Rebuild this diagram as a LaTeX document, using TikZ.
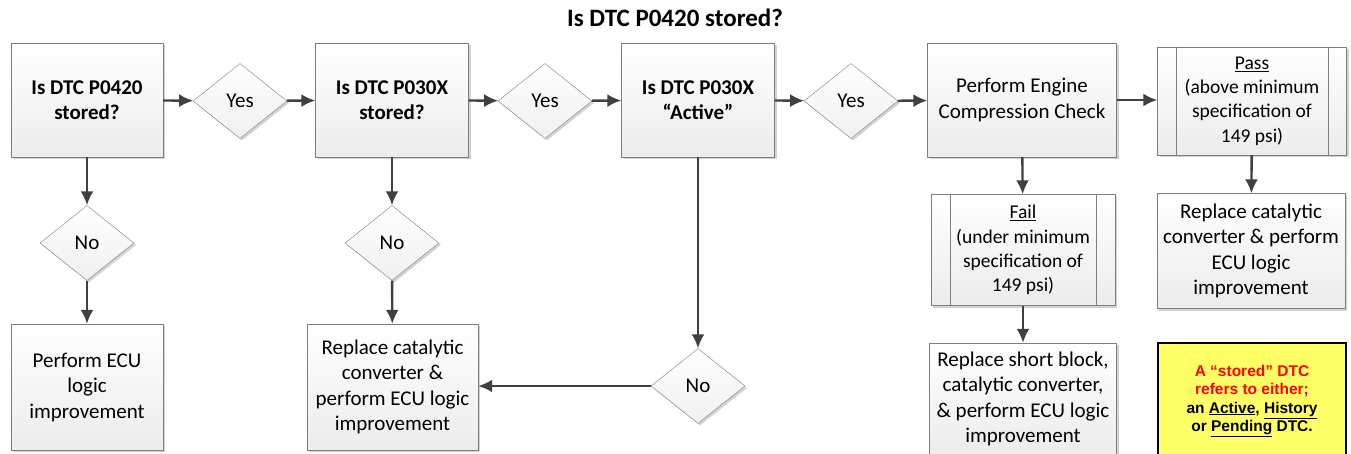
\documentclass[tikz,border=0pt]{standalone}
\usepackage{fontspec}
\setmainfont{Carlito}
\newfontfamily\notefont{Liberation Sans}
\usetikzlibrary{shapes.geometric,shadows,arrows.meta}
\definecolor{linegray}{HTML}{404040}
\definecolor{boxedge}{HTML}{7F7F7F}
\definecolor{noteyellow}{HTML}{FFFF66}

\begin{document}
\begin{tikzpicture}[x=1pt,y=-1pt,
  box/.style={draw=boxedge, top color=white, bottom color=gray!15,
    drop shadow={shadow xshift=2pt,shadow yshift=-2pt,fill=gray!70,opacity=0.5},
    align=center, inner sep=2pt, font=\fontsize{21}{25.5}\selectfont},
  decision/.style={diamond, draw=boxedge, top color=white, bottom color=gray!12,
    drop shadow={shadow xshift=2pt,shadow yshift=-2pt,fill=gray!70,opacity=0.5},
    aspect=1.25, minimum width=94pt, minimum height=75pt, inner sep=0pt,
    font=\fontsize{21}{25.5}\selectfont},
  subproc/.style={box, font=\fontsize{19.5}{24.3}\selectfont},
  note/.style={draw=black, line width=2pt, fill=noteyellow, align=center,
    font=\notefont\bfseries\fontsize{15.5}{18.3}\selectfont},
  arr/.style={draw=linegray, line width=2.4pt, ->, >={Latex[length=14pt,width=13pt]}}
]
\useasboundingbox (0,0) rectangle (1351,454);

\node[font=\bfseries\fontsize{25}{30}\selectfont] (title) at (675,18) {Is DTC P0420 stored?};

\node[box, minimum width=152pt, minimum height=114pt, font=\bfseries\fontsize{21}{25.5}\selectfont] (q1) at (87,100) {Is DTC P0420\\stored?};
\node[decision] (yes1) at (240,101) {Yes};
\node[box, minimum width=153pt, minimum height=114pt, font=\bfseries\fontsize{21}{25.5}\selectfont] (q2) at (392,100) {Is DTC P030X\\stored?};
\node[decision] (yes2) at (545,101) {Yes};
\node[box, minimum width=153pt, minimum height=114pt, font=\bfseries\fontsize{21}{25.5}\selectfont] (q3) at (698,100) {Is DTC P030X\\“Active”};
\node[decision] (yes3) at (851,101) {Yes};
\node[box, minimum width=189pt, minimum height=114pt] (check) at (1022,100) {Perform Engine\\Compression Check};

\node[subproc, minimum width=189pt, minimum height=108pt] (pass) at (1252,101) {\underline{Pass}\\(above minimum\\specification of\\149 psi)};
\node[box, minimum width=188pt, minimum height=115pt] (rep3) at (1251,251) {Replace catalytic\\converter \& perform\\ECU logic\\improvement};

\node[subproc, minimum width=184pt, minimum height=111pt] (fail) at (1023,250) {\underline{Fail}\\(under minimum\\specification of\\149 psi)};
\node[box, minimum width=187pt, minimum height=112pt] (rep4) at (1023,399) {Replace short block,\\catalytic converter,\\\& perform ECU logic\\improvement};

\node[decision] (no1) at (87,243) {No};
\node[box, minimum width=152pt, minimum height=126pt] (rep1) at (87,387) {Perform ECU\\logic\\improvement};
\node[decision] (no2) at (392,243) {No};
\node[box, minimum width=171pt, minimum height=126pt] (rep2) at (392.5,387) {Replace catalytic\\converter \&\\perform ECU logic\\improvement};
\node[decision] (no3) at (698,386) {No};

\node[note, minimum width=188pt, minimum height=116pt] (key) at (1252,401) {\textcolor{red}{A “stored” DTC}\\\textcolor{red}{refers to either;}\\an \underline{Active}, \underline{History}\\or \underline{Pending} DTC.};

% inner lines of the predefined process boxes
\draw[boxedge] ([xshift=19pt]pass.north west) -- ([xshift=19pt]pass.south west);
\draw[boxedge] ([xshift=-19pt]pass.north east) -- ([xshift=-19pt]pass.south east);
\draw[boxedge] ([xshift=19pt]fail.north west) -- ([xshift=19pt]fail.south west);
\draw[boxedge] ([xshift=-19pt]fail.north east) -- ([xshift=-19pt]fail.south east);

\path[arr] (q1) -- (yes1);
\path[arr] (yes1) -- (q2);
\path[arr] (q2) -- (yes2);
\path[arr] (yes2) -- (q3);
\path[arr] (q3) -- (yes3);
\path[arr] (yes3) -- (check);
\path[arr] (check.east) -- (pass.west |- check.east);
\path[arr] (pass) -- (rep3);
\path[arr] (check) -- (fail);
\path[arr] (fail) -- (rep4);

\path[arr] (q1) -- (no1);
\path[arr] (no1) -- (rep1);
\path[arr] (q2) -- (no2);
\path[arr] (no2) -- (rep2);
\path[arr] (q3) -- (no3);
\path[arr] (no3) -- (rep2.east |- no3.west);

\end{tikzpicture}
\end{document}
